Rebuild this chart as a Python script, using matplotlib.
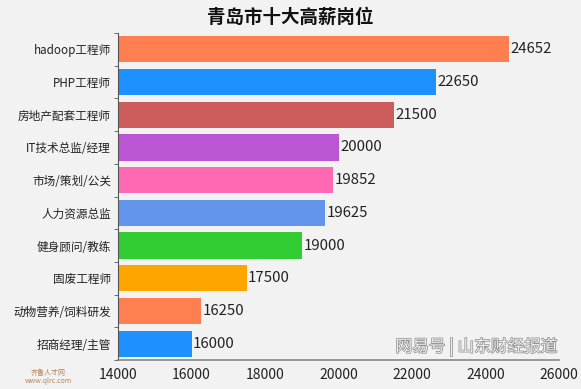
import matplotlib
matplotlib.use("Agg")
import matplotlib.pyplot as plt
import matplotlib.patheffects as pe

plt.rcParams['font.family'] = ['Noto Sans CJK SC', 'DejaVu Sans']

categories = ["hadoop工程师", "PHP工程师", "房地产配套工程师", "IT技术总监/经理", "市场/策划/公关",
              "人力资源总监", "健身顾问/教练", "固废工程师", "动物营养/饲料研发", "招商经理/主管"]
values = [24652, 22650, 21500, 20000, 19852, 19625, 19000, 17500, 16250, 16000]
colors = ["#FF7F50", "#1E90FF", "#CD5C5C", "#BA55D3", "#FF69B4",
          "#6495ED", "#32CD32", "#FFA500", "#FF7F50", "#1E90FF"]
xticks = [14000, 16000, 18000, 20000, 22000, 24000, 26000]

bg = "#f2f2f2"
fig = plt.figure(figsize=(5.81, 3.89), dpi=100, facecolor=bg)
ax = fig.add_axes([118/581, 1-360/389, (559-118)/581, (360-33)/389], facecolor=bg)

y = list(range(len(categories)))[::-1]
ax.barh(y, [v - 14000 for v in values], left=14000, height=0.8, color=colors)
for yi, v in zip(y, values):
    ax.text(v + 40, yi, str(v), va='center', ha='left', fontsize=10.8, color='#222222')

ax.set_xlim(14000, 26000)
ax.set_ylim(-0.5, len(categories) - 0.5)
ax.set_yticks(y)
ax.set_yticklabels(categories, fontsize=8.4, color='#222222')
ax.set_yticks([i + 0.5 for i in range(-1, len(categories))], minor=True)
ax.tick_params(axis='y', which='major', length=0, pad=5)
ax.tick_params(axis='y', which='minor', length=3, color='#555555')
ax.set_xticks(xticks)
ax.set_xticklabels([str(t) for t in xticks], fontsize=10, color='#222222')
ax.tick_params(axis='x', length=0, pad=6)
for s in ['top', 'right']:
    ax.spines[s].set_visible(False)
ax.spines['left'].set_color('#555555')
ax.spines['bottom'].set_color('#888888')
ax.spines['bottom'].set_linewidth(1.2)

fig.text(0.5, 1-17/389, "青岛市十大高薪岗位", ha='center', va='center', fontsize=13.3, fontweight='bold', color='#111111')

fig.text(48/581, 1-377/389, "齐鲁人才网\nwww.qlrc.com", ha='center', va='center', fontsize=5, color='#aa6633', alpha=0.8,
         linespacing=1.1)
fig.text(0.82, 1-347/389, "网易号 | 山东财经报道", ha='center', va='center', fontsize=12, color='white',
         alpha=0.85, path_effects=[pe.withStroke(linewidth=1, foreground='#777777')])

fig.savefig("out.png", dpi=100, facecolor=bg)
